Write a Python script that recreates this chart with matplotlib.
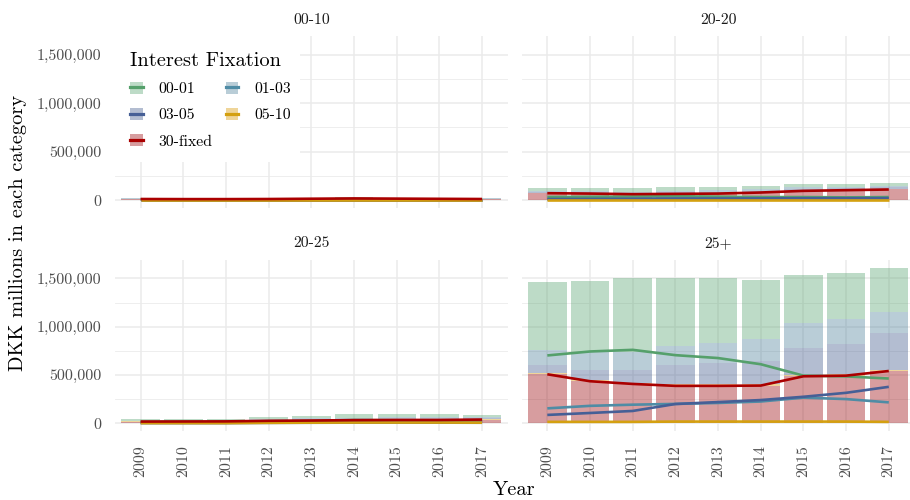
import matplotlib.pyplot as plt
from matplotlib.patches import Patch, Rectangle
from matplotlib.lines import Line2D
import numpy as np

plt.rcParams['font.family'] = ['cmr10', 'DejaVu Serif']
plt.rcParams['axes.formatter.use_mathtext'] = True

years = [2009, 2010, 2011, 2012, 2013, 2014, 2015, 2016, 2017]
facets = ["00-10", "20-20", "20-25", "25+"]
categories = ["00-01", "01-03", "03-05", "05-10", "30-fixed"]

# DKK millions, per facet
fix_00_01 = {
    "00-10": [5000, 4000, 4000, 4000, 4000, 4000, 4000, 4000, 5000],
    "20-20": [33000, 35000, 38000, 41000, 36000, 32000, 32000, 29000, 32000],
    "20-25": [15000, 15000, 14000, 21000, 23000, 33000, 30000, 30000, 21000],
    "25+": [702000, 743000, 760000, 705000, 675000, 611000, 493000, 485000, 463000],
}
fix_01_03 = {
    "00-10": [3000, 3000, 3000, 3000, 3000, 3000, 3000, 3000, 3000],
    "20-20": [8000, 9000, 10000, 12000, 14000, 16000, 18000, 14000, 13000],
    "20-25": [5000, 5000, 5000, 8000, 10000, 14000, 15000, 15000, 12000],
    "25+": [154000, 180000, 192000, 200000, 210000, 225000, 265000, 250000, 216000],
}
fix_03_05 = {
    "00-10": [2000, 2000, 2000, 2000, 2000, 2000, 2000, 2000, 2000],
    "20-20": [12000, 13000, 15000, 17000, 17000, 18000, 20000, 20000, 21000],
    "20-25": [2000, 2000, 2000, 4000, 5000, 6000, 6000, 6000, 5000],
    "25+": [86000, 106000, 127000, 199000, 219000, 240000, 274000, 315000, 377000],
}
fix_05_10 = {
    "00-10": [1000, 1000, 1000, 1000, 1000, 1000, 1000, 1000, 1000],
    "20-20": [2000, 2000, 2000, 2000, 2000, 2000, 2000, 2000, 2000],
    "20-25": [1000, 1000, 1000, 4000, 6000, 7000, 7000, 7000, 6000],
    "25+": [14000, 14000, 14000, 17000, 17000, 17000, 17000, 17000, 14000],
}
fix_30 = {
    "00-10": [12000, 11000, 11000, 12000, 15000, 18000, 16000, 14000, 12000],
    "20-20": [72000, 68000, 62000, 65000, 68000, 79000, 96000, 103000, 110000],
    "20-25": [17000, 18000, 19000, 25000, 28000, 32000, 34000, 34000, 38000],
    "25+": [507000, 435000, 407000, 387000, 387000, 390000, 486000, 493000, 541000],
}
series = {"00-01": fix_00_01, "01-03": fix_01_03, "03-05": fix_03_05,
          "05-10": fix_05_10, "30-fixed": fix_30}

fill_colors = {"00-01": "#5ca573", "01-03": "#50829b", "03-05": "#435c8e",
               "05-10": "#d99600", "30-fixed": "#9b0c11"}
line_colors = {"00-01": "#55a06b", "01-03": "#4f8ca5", "03-05": "#465f96",
               "05-10": "#d4a010", "30-fixed": "#aa0000"}

y_ticks = [0, 500000, 1000000, 1500000]
y_ticklabels = ["0", "500,000", "1,000,000", "1,500,000"]

W, H = 910, 500
fig = plt.figure(figsize=(W / 100, H / 100), dpi=100)

# panel boxes in pixels: left, top, right, bottom
boxes = {"00-10": (115, 36, 507.7, 208), "20-20": (521.7, 36, 914.4, 208),
         "20-25": (115, 260, 507.7, 431), "25+": (521.7, 260, 914.4, 431)}

x = np.arange(len(years))
ymax = 1610000
axes = {}
for f in facets:
    l, t, r, b = boxes[f]
    ax = fig.add_axes([l / W, 1 - b / H, (r - l) / W, (b - t) / H])
    axes[f] = ax
    bottom = np.zeros(len(years))
    for cat in reversed(categories):
        vals = np.array(series[cat][f], dtype=float)
        ax.bar(x, vals, 0.9, bottom=bottom, color=fill_colors[cat], alpha=0.4,
               linewidth=0, zorder=2)
        bottom += vals
    for cat in categories:
        ax.plot(x, series[cat][f], color=line_colors[cat], lw=1.9, zorder=3,
                solid_capstyle='butt')

    ax.set_xlim(-0.6, len(years) - 0.4)
    ax.set_ylim(-0.05 * ymax, 1.05 * ymax)
    ax.set_xticks(x)
    ax.set_yticks(y_ticks)
    ax.set_yticks([250000, 750000, 1250000], minor=True)
    ax.set_axisbelow(True)
    ax.grid(which='major', color='#ebebeb', lw=1.1)
    ax.grid(which='minor', axis='y', color='#ebebeb', lw=0.6)
    for s in ax.spines.values():
        s.set_visible(False)
    ax.tick_params(which='both', length=0, pad=10, labelsize=11.5,
                   labelcolor='#4d4d4d')
    if f in ("00-10", "20-25"):
        ax.set_yticklabels(y_ticklabels)
    else:
        ax.tick_params(labelleft=False)
    if f in ("20-25", "25+"):
        ax.set_xticklabels([str(y) for y in years], rotation=90)
    else:
        ax.tick_params(labelbottom=False)
    ax.set_title(f, fontsize=11.3, color='#1a1a1a', pad=9)

# legend inside the first panel, on a white box
ax0 = axes["00-10"]
ax0.add_patch(Rectangle((115 / W, 1 - 162 / H), (300 - 115) / W, (162 - 36) / H,
                        transform=fig.transFigure, facecolor='white',
                        edgecolor='none', zorder=1))
handles = {c: (Patch(facecolor=fill_colors[c], alpha=0.4, edgecolor='none'),
               Line2D([], [], color=line_colors[c], lw=2.3)) for c in categories}
order = ["00-01", "03-05", "30-fixed", "01-03", "05-10"]
leg = ax0.legend([handles[c] for c in order], order, ncol=2,
                 title="Interest Fixation", title_fontsize=14.7, fontsize=11.3,
                 loc='upper left', bbox_to_anchor=(122 / W, 1 - 44 / H),
                 bbox_transform=fig.transFigure, frameon=False, borderpad=0,
                 handlelength=0.81, handleheight=0.81, handletextpad=1.0,
                 columnspacing=0.85, labelspacing=0.75, alignment='left')
leg.set_zorder(5)

fig.text(514 / W, 1 - 490 / H, "Year", ha='center', va='center', fontsize=14.7)
fig.text(18 / W, 1 - 233 / H, "DKK millions in each category", ha='center',
         va='center', rotation=90, fontsize=14.7)

fig.savefig("out.png", dpi=100)
